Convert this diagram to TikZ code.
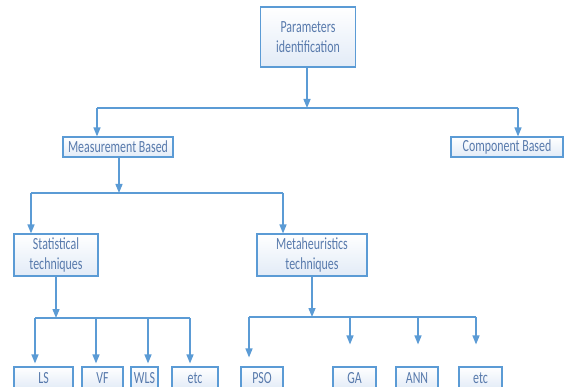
\documentclass[tikz,border=0pt]{standalone}
\usepackage{fontspec}
\setmainfont[FakeStretch=0.7]{Carlito}
\usetikzlibrary{arrows.meta}
\definecolor{edge}{RGB}{91,155,213}
\definecolor{ink}{RGB}{88,122,172}
\definecolor{boxlow}{RGB}{226,235,247}
\tikzset{
  box/.style={draw=edge, line width=1.1pt, top color=white, bottom color=boxlow,
    text=ink, font=\fontsize{17}{20.5}\selectfont, align=center, inner sep=0pt},
  leaf/.style={box, minimum height=22pt},
  link/.style={draw=edge, line width=1.4pt},
  arr/.style={link, -{Triangle[width=7pt,length=9pt]}}
}
\begin{document}
\begin{tikzpicture}[x=1pt,y=-1pt]
\useasboundingbox (0,0) rectangle (577,387);
\clip (0,0) rectangle (577,387);

% level 0
\node[box, minimum width=95pt, minimum height=60pt] (root) at (308,37) {Parameters\\identification};

% level 1
\node[box, minimum width=110pt, minimum height=20pt] (meas) at (118,147) {Measurement Based};
\node[box, minimum width=112pt, minimum height=20pt] (comp) at (507,147) {Component Based};

% level 2
\node[box, minimum width=84pt, minimum height=42pt] (stat) at (56,255) {Statistical\\techniques};
\node[box, minimum width=110pt, minimum height=42pt] (meta) at (312,255) {Metaheuristics\\techniques};

% level 3 (boxes run past the lower edge)
\node[leaf, minimum width=59pt] (ls)   at (43.5,378) {LS};
\node[leaf, minimum width=41pt] (vf)   at (102.5,378) {VF};
\node[leaf, minimum width=27pt] (wls)  at (144.5,378) {WLS};
\node[leaf, minimum width=46pt] (etcA) at (195,378) {etc};
\node[leaf, minimum width=42pt] (pso)  at (262,378) {PSO};
\node[leaf, minimum width=43pt] (ga)   at (354.5,378) {GA};
\node[leaf, minimum width=42pt] (ann)  at (417,378) {ANN};
\node[leaf, minimum width=43pt] (etcB) at (480.5,378) {etc};

% junctions
\coordinate (j0) at (307,108);
\coordinate (j0L) at (97,108);
\coordinate (j0R) at (518,108);
\coordinate (j1) at (119,193);
\coordinate (j1L) at (31,193);
\coordinate (j1R) at (283,193);
\coordinate (j2) at (56,318);
\coordinate (j2a) at (35,318);
\coordinate (j2b) at (96,318);
\coordinate (j2c) at (148,318);
\coordinate (j2d) at (190,318);
\coordinate (j3) at (312,317);
\coordinate (j3a) at (249,317);
\coordinate (j3b) at (350,317);
\coordinate (j3c) at (418,317);
\coordinate (j3d) at (476,317);

% root -> level 1
\draw[arr] (root.south -| j0) -- (j0);
\draw[link] (j0L) -- (j0R);
\draw[arr] (j0L) -- (meas.north -| j0L);
\draw[arr] (j0R) -- (comp.north -| j0R);

% measurement -> level 2
\draw[arr] (meas.south -| j1) -- (j1);
\draw[link] (j1L) -- (j1R);
\draw[arr] (j1L) -- (stat.north -| j1L);
\draw[arr] (j1R) -- (meta.north -| j1R);

% statistical -> methods
\draw[arr] (stat.south -| j2) -- (j2);
\draw[link] (j2a) -- (j2d);
\draw[arr] (j2a) -- ([yshift=3pt]ls.north -| j2a);
\draw[arr] (j2b) -- ([yshift=3pt]vf.north -| j2b);
\draw[arr] (j2c) -- ([yshift=3pt]wls.north -| j2c);
\draw[arr] (j2d) -- ([yshift=3pt]etcA.north -| j2d);

% metaheuristics -> methods
\draw[arr] (meta.south -| j3) -- (j3);
\draw[link] (j3a) -- (j3d);
\draw[arr] (j3a) -- ([yshift=9pt]pso.north -| j3a);
\draw[arr] (j3b) -- ([yshift=22pt]ga.north -| j3b);
\draw[arr] (j3c) -- ([yshift=22pt]ann.north -| j3c);
\draw[arr] (j3d) -- ([yshift=22pt]etcB.north -| j3d);
\end{tikzpicture}
\end{document}
